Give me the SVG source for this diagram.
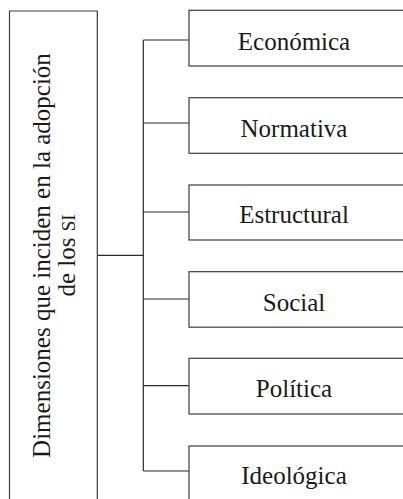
<svg xmlns="http://www.w3.org/2000/svg" width="403" height="499" viewBox="0 0 403 499">
<style>
.box{fill:#fff;stroke:#3c3c3c;stroke-width:1.2}
.conn{fill:none;stroke:#2a2a2a;stroke-width:1.2}
.lbl{font-family:"Liberation Serif","DejaVu Serif",serif;font-size:25px;fill:#1a1a1a}
</style>
<rect width="403" height="499" fill="#fff"/>
<g id="connectors">
<path class="conn" d="M97.3,255.3H143.3M143.3,40V471M143.3,40H189M143.3,123H189M143.3,212H189M143.3,299H189M143.3,385.7H189M143.3,471H189"/>
</g>
<g id="root">
<path class="box" d="M9.5,500V11H97.3V500"/>
<text class="lbl" transform="translate(50,255.5) rotate(-90)" text-anchor="middle">Dimensiones que inciden en la adopción</text>
<text class="lbl" transform="translate(75,255.5) rotate(-90)" text-anchor="middle">de los <tspan font-size="19">SI</tspan></text>
</g>
<g id="n1"><rect class="box" x="189" y="10.3" width="230" height="55.7"/><text class="lbl" x="294" y="50" text-anchor="middle">Económica</text></g>
<g id="n2"><rect class="box" x="189" y="97.7" width="230" height="55.6"/><text class="lbl" x="294" y="136.5" text-anchor="middle">Normativa</text></g>
<g id="n3"><rect class="box" x="189" y="185" width="230" height="55"/><text class="lbl" x="294" y="223" text-anchor="middle">Estructural</text></g>
<g id="n4"><rect class="box" x="189" y="271.7" width="230" height="55.5"/><text class="lbl" x="294" y="310.7" text-anchor="middle">Social</text></g>
<g id="n5"><rect class="box" x="189" y="358.3" width="230" height="55.7"/><text class="lbl" x="294" y="396.7" text-anchor="middle">Política</text></g>
<g id="n6"><rect class="box" x="189" y="446" width="230" height="60"/><text class="lbl" x="294" y="483.5" text-anchor="middle">Ideológica</text></g>
</svg>
